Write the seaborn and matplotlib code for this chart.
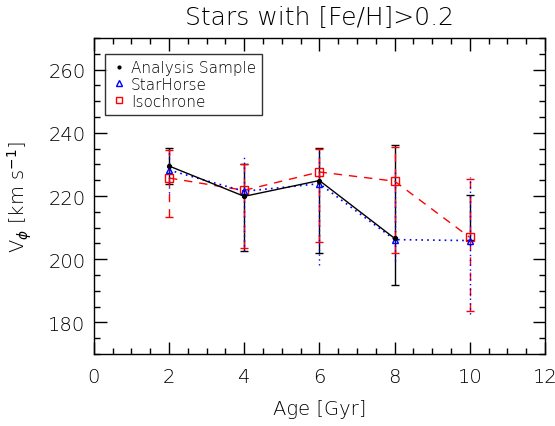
import numpy as np
import pandas as pd
import matplotlib
matplotlib.use("Agg")
import matplotlib.pyplot as plt
import seaborn as sns
from matplotlib.ticker import MultipleLocator
from matplotlib.lines import Line2D

ages = [2, 4, 6, 8, 10]

ana_v = [229.5, 219.9, 224.9, 206.6, 206.2]
ana_lo = [223.7, 202.5, 202.1, 191.7, 206.2]
ana_hi = [235.2, 230.2, 235.3, 236.3, 220.2]

sh_v = [228.2, 221.5, 223.9, 206.2, 205.9]
sh_lo = [221.0, 202.5, 198.3, 199.3, 182.7]
sh_hi = [235.0, 232.6, 235.0, 228.3, 226.1]

iso_v = [225.7, 221.8, 227.6, 224.7, 206.9]
iso_lo = [213.4, 203.7, 205.6, 202.0, 183.7]
iso_hi = [234.5, 230.0, 235.0, 235.5, 225.5]

sns.set_style("ticks")
plt.rcParams['font.family'] = ['DejaVu Sans']
plt.rcParams['text.color'] = 'black'
plt.rcParams['axes.labelcolor'] = 'black'
plt.rcParams['xtick.color'] = 'black'
plt.rcParams['ytick.color'] = 'black'

fig = plt.figure(figsize=(5.55, 4.27), dpi=100)
ax = fig.add_axes([0.169, 0.1686, 0.813, 0.74])

def errs(v, lo, hi):
    v = np.array(v); return np.vstack([v - np.array(lo), np.array(hi) - v])

# error bars
ax.errorbar(ages, ana_v, yerr=errs(ana_v, ana_lo, ana_hi), fmt='none',
            ecolor='black', elinewidth=1.0, capsize=3, capthick=1.0, zorder=2)
eb_iso = ax.errorbar(ages, iso_v, yerr=errs(iso_v, iso_lo, iso_hi), fmt='none',
                     ecolor='red', elinewidth=1.0, capsize=3, capthick=1.0, zorder=3)
for c in eb_iso[2]:
    c.set_linestyle((0, (6, 5)))
eb_sh = ax.errorbar(ages, sh_v, yerr=errs(sh_v, sh_lo, sh_hi), fmt='none',
                    ecolor='blue', elinewidth=1.0, capsize=0, zorder=3)
for c in eb_sh[2]:
    c.set_linestyle((0, (1, 2.5)))

df_ana = pd.DataFrame({"age": ages[:4], "v": ana_v[:4]})
df_sh = pd.DataFrame({"age": ages, "v": sh_v})
df_iso = pd.DataFrame({"age": ages, "v": iso_v})

sns.lineplot(data=df_iso, x="age", y="v", ax=ax, color='red', linestyle=(0, (6, 5)),
             linewidth=1.0, marker='s', markersize=6, markerfacecolor='none',
             markeredgecolor='red', markeredgewidth=1.0, zorder=4)
sns.lineplot(data=df_sh, x="age", y="v", ax=ax, color='blue', linestyle=(0, (1, 2.5)),
             linewidth=1.2, marker='^', markersize=5, markerfacecolor='none',
             markeredgecolor='blue', markeredgewidth=1.0, zorder=4)
sns.lineplot(data=df_ana, x="age", y="v", ax=ax, color='black', linestyle='-',
             linewidth=1.0, marker='o', markersize=3, markerfacecolor='black',
             markeredgecolor='black', zorder=5)

ax.set_xlim(0, 12)
ax.set_ylim(170, 270)
ax.xaxis.set_major_locator(MultipleLocator(2))
ax.xaxis.set_minor_locator(MultipleLocator(0.5))
ax.yaxis.set_major_locator(MultipleLocator(20))
ax.yaxis.set_minor_locator(MultipleLocator(5))
ax.tick_params(which='both', direction='in', top=True, right=True, width=1, color='black')
ax.tick_params(which='major', length=9, labelsize=14)
ax.tick_params(axis='x', which='major', pad=9)
ax.tick_params(axis='y', which='major', pad=6)
ax.tick_params(which='minor', length=4)
for lab in ax.get_xticklabels() + ax.get_yticklabels():
    lab.set_fontweight('light')
for s in ax.spines.values():
    s.set_linewidth(1.0)
    s.set_color('black')

ax.set_xlabel("Age [Gyr]", fontsize=14, fontweight='light', labelpad=10)
ax.set_ylabel(r"V$_\phi$ [km s$^{-1}$]", fontsize=14, fontweight='light', labelpad=10)
ax.set_title("Stars with [Fe/H]>0.2", fontsize=18, fontweight='light', pad=10)

handles = [
    Line2D([], [], linestyle='none', marker='o', markersize=2, color='black'),
    Line2D([], [], linestyle='none', marker='^', markersize=4, markerfacecolor='none', markeredgecolor='blue'),
    Line2D([], [], linestyle='none', marker='s', markersize=4, markerfacecolor='none', markeredgecolor='red'),
]
leg = ax.legend(handles, ["Analysis Sample", "StarHorse", "Isochrone"], loc='upper left',
                bbox_to_anchor=(0.025, 0.95), borderaxespad=0, fontsize=11, frameon=True,
                fancybox=False, edgecolor='black', handlelength=1.0, handletextpad=0.3,
                borderpad=0.4, labelspacing=0.12)
leg.get_frame().set_linewidth(1.0)
for t in leg.get_texts():
    t.set_fontweight('light')
    t.set_color('black')

fig.savefig("out.png", dpi=100)
